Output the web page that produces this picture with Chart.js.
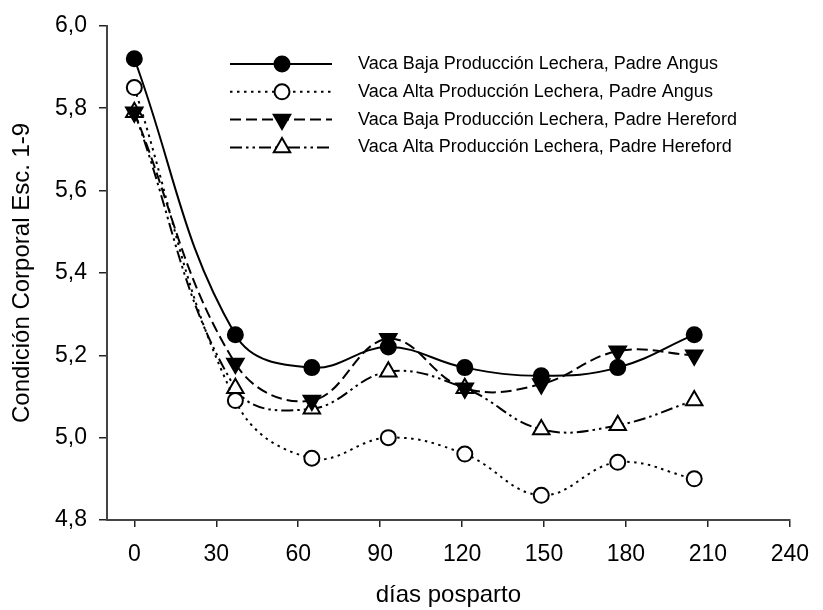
<!DOCTYPE html>
<html>
<head>
<meta charset="utf-8">
<script src="https://cdn.jsdelivr.net/npm/chart.js@4.4.0/dist/chart.umd.min.js"></script>
<style>
    html, body { margin: 0; padding: 0; background: #fff; }
    canvas { display: block; }
</style>
</head>
<body>
<canvas id="myChart" width="823" height="610"></canvas>
<script>
// días posparto
const days = [0, 37, 65, 93, 121, 149, 177, 205];

// Condición corporal por grupo
const bajaAngus    = [5.92, 5.25, 5.17, 5.22, 5.17, 5.15, 5.17, 5.25];
const altaAngus    = [5.85, 5.09, 4.95, 5.00, 4.96, 4.86, 4.94, 4.90];
const bajaHereford = [5.79, 5.18, 5.09, 5.24, 5.12, 5.13, 5.21, 5.20];
const altaHereford = [5.79, 5.12, 5.07, 5.16, 5.12, 5.02, 5.03, 5.09];

const seriesNames = [
    'Vaca Baja Producción Lechera, Padre Angus',
    'Vaca Alta Producción Lechera, Padre Angus',
    'Vaca Baja Producción Lechera, Padre Hereford',
    'Vaca Alta Producción Lechera, Padre Hereford'
];

const xTicks = [0, 30, 60, 90, 120, 150, 180, 210, 240];
const yTicks = [4.8, 5.0, 5.2, 5.4, 5.6, 5.8, 6.0];

const FONT = 'Arial, "Liberation Sans", sans-serif';

function toPoints(values) {
    return days.map((d, i) => ({ x: d, y: values[i] }));
}

// line / marker style of each series
const styles = [
    { dash: [],                      shape: 'circle',   fill: '#000', rot: 0 },
    { dash: [2.5, 4.5],              shape: 'circle',   fill: '#fff', rot: 0 },
    { dash: [11, 5],                 shape: 'triangle', fill: '#000', rot: 180 },
    { dash: [12, 4, 2.5, 4, 2.5, 4], shape: 'triangle', fill: '#fff', rot: 0 }
];

const allValues = [bajaAngus, altaAngus, bajaHereford, altaHereford];

const datasets = allValues.map((vals, i) => ({
    label: seriesNames[i],
    data: toPoints(vals),
    borderColor: '#000',
    borderWidth: 2,
    borderDash: styles[i].dash,
    tension: 0.4,
    pointStyle: styles[i].shape,
    pointRotation: styles[i].rot,
    pointRadius: styles[i].shape === 'circle' ? 7.5 : 9.5,
    pointBackgroundColor: styles[i].fill,
    pointBorderColor: '#000',
    pointBorderWidth: 2,
    fill: false
}));

function drawMarker(ctx, st, x, y) {
    ctx.save();
    ctx.setLineDash([]);
    ctx.lineWidth = 2;
    ctx.strokeStyle = '#000';
    ctx.fillStyle = st.fill;
    ctx.beginPath();
    if (st.shape === 'circle') {
        ctx.arc(x, y, 7.5, 0, Math.PI * 2);
    } else {
        const r = 9.5;
        let a = st.rot * Math.PI / 180;
        for (let k = 0; k < 3; k++) {
            const px = x + Math.sin(a) * r;
            const py = y - Math.cos(a) * r;
            if (k === 0) ctx.moveTo(px, py); else ctx.lineTo(px, py);
            a += Math.PI * 2 / 3;
        }
        ctx.closePath();
    }
    ctx.fill();
    ctx.stroke();
    ctx.restore();
}

// legend drawn by hand: line + marker + text
const legendPlugin = {
    id: 'customLegend',
    afterDraw(chart) {
        const ctx = chart.ctx;
        chart.data.datasets.forEach((ds, i) => {
            const y = 64 + i * 27.8;
            ctx.save();
            ctx.strokeStyle = '#000';
            ctx.lineWidth = 2;
            ctx.setLineDash(styles[i].dash);
            ctx.beginPath();
            ctx.moveTo(230, y);
            ctx.lineTo(332, y);
            ctx.stroke();
            ctx.restore();
            drawMarker(ctx, styles[i], 282, y);
            ctx.save();
            ctx.fillStyle = '#000';
            ctx.font = '18px ' + FONT;
            ctx.textBaseline = 'middle';
            ctx.textAlign = 'left';
            ctx.fillText(ds.label, 358, y);
            ctx.restore();
        });
    }
};

const ctx = document.getElementById('myChart').getContext('2d');
const myChart = new Chart(ctx, {
    type: 'line',
    data: { datasets: datasets },
    options: {
        responsive: false,
        animation: false,
        events: [],
        layout: { padding: { top: 21, right: 23, left: 0, bottom: 0 } },
        scales: {
            x: {
                type: 'linear',
                min: -10,
                max: 240,
                afterBuildTicks: scale => { scale.ticks = xTicks.map(v => ({ value: v })); },
                afterFit: scale => { scale.height = 90; },
                ticks: {
                    color: '#000',
                    padding: 14,
                    font: { family: FONT, size: 23 },
                    callback: v => String(v)
                },
                grid: { drawOnChartArea: false, drawTicks: true, tickLength: 7, color: '#222', lineWidth: 1.5 },
                border: { display: true, color: '#444', width: 2 },
                title: {
                    display: true,
                    text: 'días posparto',
                    color: '#000',
                    padding: { top: -3, bottom: 0 },
                    font: { family: FONT, size: 24 }
                }
            },
            y: {
                min: 4.8,
                max: 6.0,
                afterBuildTicks: scale => { scale.ticks = yTicks.map(v => ({ value: v })); },
                afterFit: scale => { scale.width = 107; },
                ticks: {
                    color: '#000',
                    padding: 12,
                    font: { family: FONT, size: 23 },
                    callback: v => v.toFixed(1).replace('.', ',')
                },
                grid: { drawOnChartArea: false, drawTicks: true, tickLength: 8, color: '#222', lineWidth: 1.5 },
                border: { display: true, color: '#444', width: 2 },
                title: {
                    display: true,
                    text: 'Condición Corporal Esc. 1-9',
                    color: '#000',
                    padding: { top: 8, bottom: 0 },
                    font: { family: FONT, size: 24 }
                }
            }
        },
        plugins: {
            legend: { display: false },
            tooltip: { enabled: false }
        }
    },
    plugins: [legendPlugin]
});
</script>
</body>
</html>
